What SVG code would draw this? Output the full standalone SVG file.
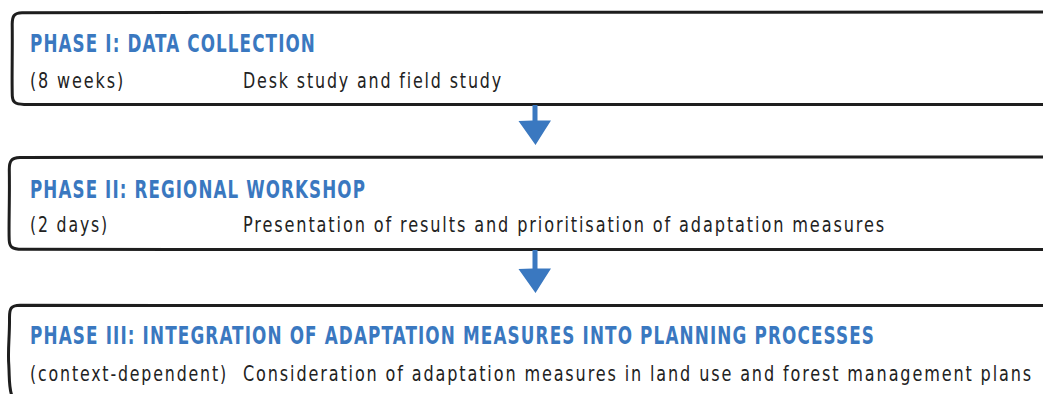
<svg xmlns="http://www.w3.org/2000/svg" width="1043" height="394" viewBox="0 0 1043 394">
  <style>
    .frame { fill: #ffffff; stroke: #1e1e1e; stroke-width: 3; stroke-linejoin: round; stroke-linecap: round; }
    .title { font-family: "DejaVu Sans", "Liberation Sans", sans-serif; font-stretch: condensed; font-weight: bold; font-size: 25px; letter-spacing: 1.5px; fill: #3a78c0; }
    .body { font-family: "DejaVu Sans", "Liberation Sans", sans-serif; font-stretch: condensed; font-size: 21px; letter-spacing: 2.2px; fill: #222222; }
    .arrow { fill: #3a78c0; }
  </style>

  <!-- phase 1 -->
  <g id="phase1">
    <path class="frame" d="M1060,12 C800,12.5 400,11.5 22,12.8 C14,13 12.3,16 12.2,24 C12.6,50 11.7,78 12.3,96 C12.5,102 15,104.2 24,104.4 C400,104.8 800,104.3 1060,104.6"/>
    <text class="title" x="30" y="52" textLength="286" lengthAdjust="spacingAndGlyphs">PHASE I: DATA COLLECTION</text>
    <text class="body" x="30" y="88" textLength="95" lengthAdjust="spacingAndGlyphs">(8 weeks)</text>
    <text class="body" x="243" y="88" textLength="260" lengthAdjust="spacingAndGlyphs">Desk study and field study</text>
  </g>

  <!-- phase 2 -->
  <g id="phase2">
    <path class="frame" d="M1060,157 C800,157.4 400,156.5 20,157.6 C11,158 9.2,161 9.3,170 C9.8,200 8.6,225 9.2,240 C9.5,247 12,249.2 22,249.3 C400,249.7 800,249.2 1060,249.5"/>
    <text class="title" x="30" y="198" textLength="336" lengthAdjust="spacingAndGlyphs">PHASE II: REGIONAL WORKSHOP</text>
    <text class="body" x="30" y="232" textLength="79" lengthAdjust="spacingAndGlyphs">(2 days)</text>
    <text class="body" x="243" y="232" textLength="643" lengthAdjust="spacingAndGlyphs">Presentation of results and prioritisation of adaptation measures</text>
  </g>

  <!-- phase 3 -->
  <g id="phase3">
    <path class="frame" d="M1060,305.6 C800,305.2 400,305.8 20,305.3 C11,305.5 9.4,308 9.5,318 C9.8,335 7.6,350 8.8,365 C9.6,380 8.8,388 12,396"/>
    <text class="title" x="30" y="344" textLength="845" lengthAdjust="spacingAndGlyphs">PHASE III: INTEGRATION OF ADAPTATION MEASURES INTO PLANNING PROCESSES</text>
    <text class="body" x="30" y="381" textLength="198" lengthAdjust="spacingAndGlyphs">(context-dependent)</text>
    <text class="body" x="243" y="381" textLength="790" lengthAdjust="spacingAndGlyphs">Consideration of adaptation measures in land use and forest management plans</text>
  </g>

  <!-- connectors -->
  <g id="connectors">
    <path class="arrow" d="M532.5,105 L537.5,105 L537.5,120.5 L551,120.5 Q543,133 535.5,145 Q527,133 518.5,121 L532.5,120.5 Z"/>
    <path class="arrow" d="M532.5,250 L537.5,250 L537.5,268.5 L551,268.5 Q543,281 535.5,293 Q527,281 518.5,269 L532.5,268.5 Z"/>
  </g>
</svg>
